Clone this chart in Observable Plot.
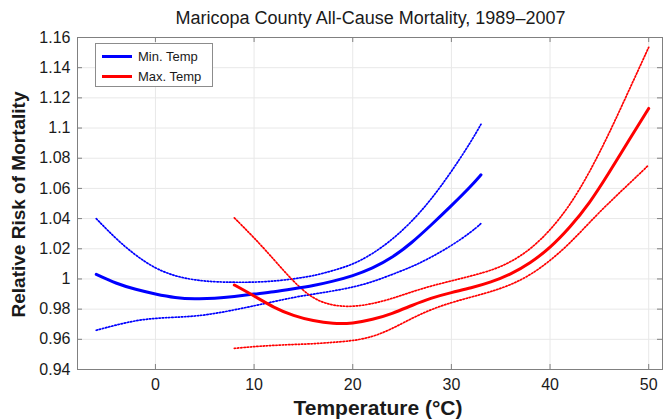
<!DOCTYPE html>
<html><head><meta charset="utf-8">
<script src="https://cdn.jsdelivr.net/npm/d3@7"></script>
<script src="https://cdn.jsdelivr.net/npm/@observablehq/plot@0.6"></script>
<style>
body{margin:0;background:#fff;}
#wrap{position:relative;width:664px;height:420px;font-family:"Liberation Sans",Arial,sans-serif;color:#1a1a1a;}
#title{position:absolute;left:77px;width:587px;top:8px;text-align:center;font-size:18px;white-space:nowrap;}
#legend{position:absolute;left:95px;top:43px;width:118px;height:44px;border:1px solid #8c8c8c;background:#fff;box-sizing:border-box;}
.row{position:absolute;left:6px;height:16px;display:flex;align-items:center;font-size:13px;}
.sw{width:30px;height:3px;margin-right:6px;}
</style>
</head><body>
<div id="wrap"><div id="title"></div><div id="legend"></div></div>
<script>
const titleText = "Maricopa County All-Cause Mortality, 1989–2007";
const xLabel = "Temperature (°C)";
const yLabel = "Relative Risk of Mortality";
const legendLabels = ["Min. Temp", "Max. Temp"];
const seriesColors = ["#0000ff", "#ff0000"];
const xTicks = [0, 10, 20, 30, 40, 50];
const yTicks = [0.94, 0.96, 0.98, 1.00, 1.02, 1.04, 1.06, 1.08, 1.10, 1.12, 1.14, 1.16];

// Min. Temp
const minX     = [-6, -4, -2, 0, 2, 4, 6, 8, 10, 12, 14, 16, 18, 20, 22, 24, 26, 28, 30, 32, 33];
const minFit   = [1.003, 0.997, 0.993, 0.990, 0.9875, 0.9867, 0.9870, 0.9883, 0.9900, 0.9915, 0.9935, 0.9955, 0.9985, 1.002, 1.007, 1.014, 1.024, 1.036, 1.0485, 1.0615, 1.069];
const minUpper = [1.040, 1.0265, 1.0155, 1.0068, 1.0018, 0.9992, 0.998, 0.9978, 0.9978, 0.9985, 1.000, 1.002, 1.0055, 1.0095, 1.0165, 1.026, 1.038, 1.053, 1.071, 1.091, 1.1025];
const minLower = [0.966, 0.9695, 0.9725, 0.974, 0.9746, 0.9753, 0.977, 0.9795, 0.9822, 0.985, 0.9878, 0.990, 0.992, 0.9945, 0.998, 1.003, 1.008, 1.0145, 1.022, 1.031, 1.0367];

// Max. Temp
const maxX     = [8, 10, 12, 14, 16, 18, 20, 22, 24, 26, 28, 30, 32, 34, 36, 38, 40, 42, 44, 46, 48, 50];
const maxFit   = [0.996, 0.9888, 0.981, 0.9755, 0.9722, 0.9703, 0.9705, 0.973, 0.977, 0.9825, 0.9875, 0.991, 0.994, 0.9978, 1.003, 1.0105, 1.0205, 1.034, 1.050, 1.0705, 1.092, 1.113];
const maxUpper = [1.0405, 1.0274, 1.013, 0.998, 0.9865, 0.9822, 0.9815, 0.9835, 0.987, 0.9915, 0.9955, 0.9987, 1.002, 1.0055, 1.011, 1.0195, 1.032, 1.0485, 1.0705, 1.0965, 1.125, 1.1535];
const maxLower = [0.954, 0.9552, 0.956, 0.9566, 0.957, 0.958, 0.959, 0.9615, 0.967, 0.974, 0.980, 0.9844, 0.988, 0.9915, 0.996, 1.0025, 1.012, 1.0235, 1.0375, 1.0507, 1.063, 1.0755];

function rows(xs, ys, series, band) {
  return xs.map((x, i) => ({x, y: ys[i], series, key: series + "-" + band}));
}
const solidRows = [...rows(minX, minFit, 0, "fit"), ...rows(maxX, maxFit, 1, "fit")];
const dottedRows = [
  ...rows(minX, minUpper, 0, "up"), ...rows(minX, minLower, 0, "lo"),
  ...rows(maxX, maxUpper, 1, "up"), ...rows(maxX, maxLower, 1, "lo")
];

const W = 664, H = 420, mL = 77, mR = 2, mT = 37, mB = 51;
const fw = W - mL - mR, fh = H - mT - mB;
const axisColor = "#808080", gridColor = "#e8e8e8", textColor = "#1a1a1a";
const font = "'Liberation Sans', Arial, sans-serif";

const chart = Plot.plot({
  width: W, height: H,
  marginLeft: mL, marginRight: mR, marginTop: mT, marginBottom: mB,
  style: {fontFamily: font, fontSize: "16px", background: "white", color: textColor},
  x: {domain: [-7.9, 51.4]},
  y: {domain: [0.94, 1.16]},
  marks: [
    Plot.gridX(xTicks, {stroke: gridColor, strokeOpacity: 1}),
    Plot.gridY(yTicks, {stroke: gridColor, strokeOpacity: 1}),
    Plot.line(dottedRows, {x: "x", y: "y", z: "key", stroke: d => seriesColors[d.series], strokeWidth: 1.7, strokeDasharray: "1.4,1.8", curve: "basis"}),
    Plot.line(solidRows, {x: "x", y: "y", z: "key", stroke: d => seriesColors[d.series], strokeWidth: 3, curve: "basis"}),
    Plot.ruleX(xTicks, {insetTop: fh - 5, stroke: axisColor}),
    Plot.ruleX(xTicks, {insetBottom: fh - 5, stroke: axisColor}),
    Plot.ruleY(yTicks, {insetRight: fw - 5, stroke: axisColor}),
    Plot.ruleY(yTicks, {insetLeft: fw - 5, stroke: axisColor}),
    Plot.frame({stroke: axisColor}),
    Plot.axisX(xTicks, {tickSize: 0, tickPadding: 9, label: null, fontSize: 16, fill: textColor}),
    Plot.axisY(yTicks, {tickSize: 0, tickPadding: 7, label: null, fontSize: 16, fill: textColor, tickFormat: d => String(+d.toFixed(2))}),
    Plot.text([xLabel], {frameAnchor: "bottom", dx: 8, dy: 39, lineAnchor: "middle", textAnchor: "middle", text: d => d, fontSize: 21, fontWeight: "bold", fill: textColor}),
    Plot.text([yLabel], {frameAnchor: "left", dx: -59, dy: 1, rotate: -90, lineAnchor: "middle", textAnchor: "middle", text: d => d, fontSize: 19, fontWeight: "bold", fill: textColor})
  ]
});
const wrap = document.getElementById("wrap");
wrap.insertBefore(chart, wrap.firstChild);
chart.style.position = "absolute"; chart.style.left = "0"; chart.style.top = "0";

document.getElementById("title").textContent = titleText;
const legend = document.getElementById("legend");
legendLabels.forEach((lab, i) => {
  const r = document.createElement("div");
  r.className = "row";
  r.style.top = (4 + i * 20) + "px";
  const sw = document.createElement("div");
  sw.className = "sw"; sw.style.background = seriesColors[i];
  const t = document.createElement("span"); t.textContent = lab;
  r.appendChild(sw); r.appendChild(t);
  legend.appendChild(r);
});
</script>
</body></html>
